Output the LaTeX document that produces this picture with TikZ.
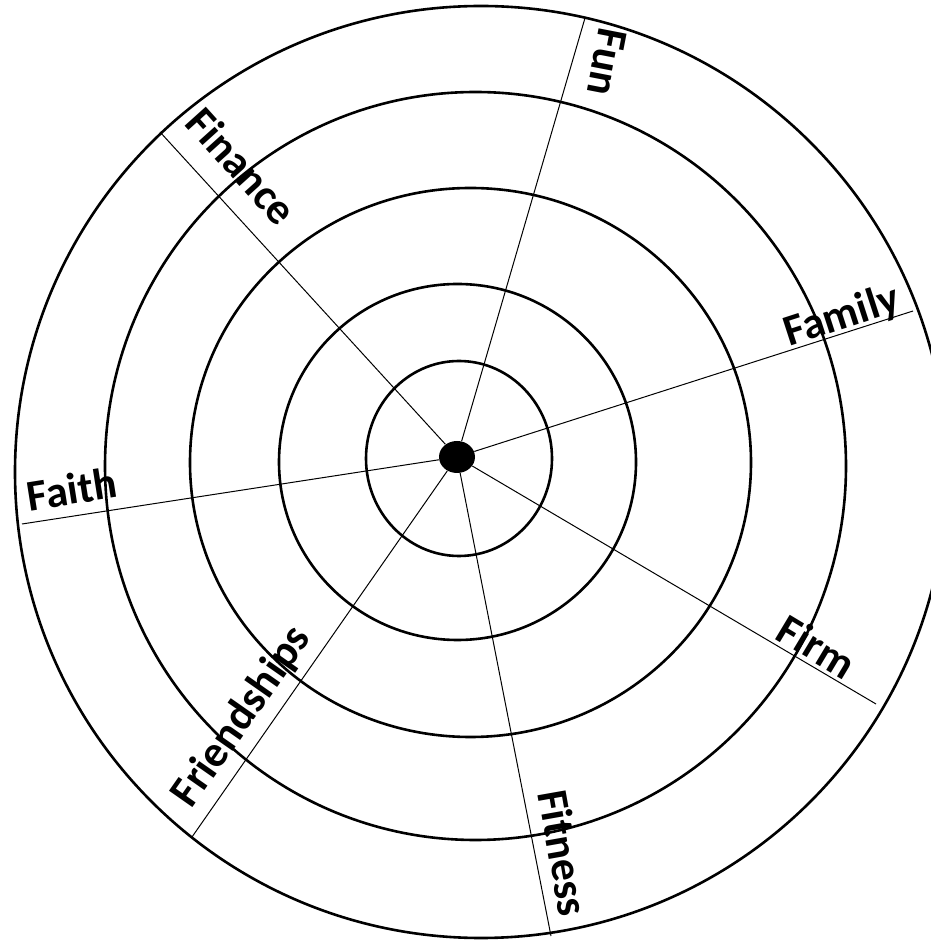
\documentclass[tikz,border=0pt]{standalone}
\usepackage{fontspec}
\setmainfont{Carlito}
\usepackage{tikz}
\usetikzlibrary{shapes.geometric}

\tikzset{
  ring/.style={line width=1.3pt},
  spoke/.style={line width=0.5pt},
  area/.style={font=\fontsize{22}{26}\selectfont\bfseries, inner sep=0pt},
}

\begin{document}
\begin{tikzpicture}[x=0.5pt, y=0.5pt]
\useasboundingbox (0,0) rectangle (931,943);
% rings
\draw[ring] (459,484.5) ellipse [x radius=93, y radius=97.5];
\draw[ring] (457.5,481) ellipse [x radius=178.5, y radius=178];
\draw[ring] (470.5,480.5) ellipse [x radius=280.5, y radius=274.5];
\draw[ring] (475.5,477) ellipse [x radius=370.5, y radius=374];
\draw[ring] (481,471) ellipse [x radius=466, y radius=466];
% hub and spokes
\node[ellipse, fill=black, minimum width=18pt, minimum height=16pt, inner sep=0pt] (hub) at (457,486) {};
\coordinate (fun) at (585,925);
\coordinate (family) at (913,632);
\coordinate (firm) at (876,239);
\coordinate (fitness) at (551,7);
\coordinate (friendships) at (192,106);
\coordinate (faith) at (22,419);
\coordinate (finance) at (160,811);
\foreach \e in {fun,family,firm,fitness,friendships,faith,finance}
  \draw[spoke] (hub) -- (\e);
% labels
\node[area, rotate=-101] (lfun) at (607,881) {Fun};
\node[area, rotate=18] (lfamily) at (842,626) {Family};
\node[area, rotate=-31] (lfirm) at (817,297) {Firm};
\node[area, rotate=-80] (lfitness) at (564,90) {Fitness};
\node[area, rotate=55] (lfriendships) at (242,226) {Friendships};
\node[area, rotate=9] (lfaith) at (72,454) {Faith};
\node[area, rotate=-48] (lfinance) at (242,777) {Finance};
\end{tikzpicture}
\end{document}
